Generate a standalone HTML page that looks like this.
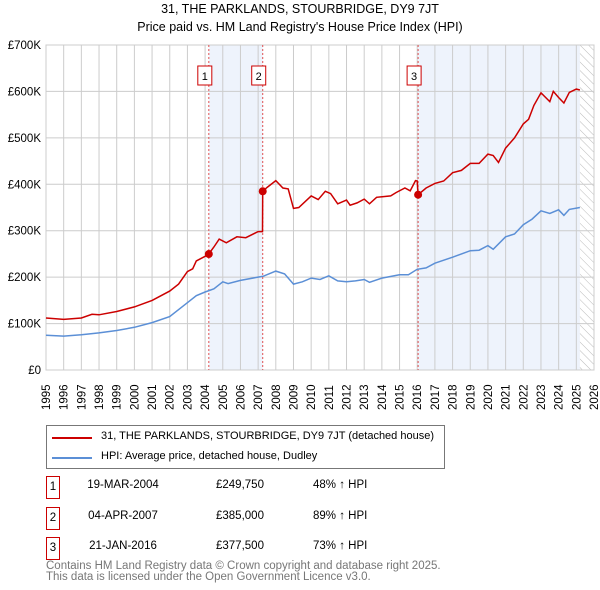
<!DOCTYPE html>
<html><head><meta charset="utf-8"><style>
body{margin:0;background:#fff;font-family:"Liberation Sans","DejaVu Sans",sans-serif;}
#w{position:relative;width:600px;height:590px;overflow:hidden}
.t{position:absolute;font-size:12px;color:#000;white-space:nowrap}
</style></head><body><div id="w">
<div class="t" style="left:0;width:600px;top:2px;text-align:center;font-size:12.5px">31, THE PARKLANDS, STOURBRIDGE, DY9 7JT</div>
<div class="t" style="left:0;width:600px;top:20px;text-align:center;font-size:12.5px">Price paid vs. HM Land Registry's House Price Index (HPI)</div>
<svg id="c" width="600" height="420" style="position:absolute;left:0;top:0"></svg>
<div style="position:absolute;left:46px;top:425px;width:397px;height:42px;border:1px solid #777">
<div style="position:absolute;left:5px;top:11px;width:40px;height:2px;background:#cc0000"></div>
<div class="t" style="left:54px;top:4px;font-size:11px">31, THE PARKLANDS, STOURBRIDGE, DY9 7JT (detached house)</div>
<div style="position:absolute;left:5px;top:31px;width:40px;height:2px;background:#5b8fd6"></div>
<div class="t" style="left:54px;top:24px;font-size:11px">HPI: Average price, detached house, Dudley</div>
</div>
<div id="tbl"></div>
<div class="t" style="left:46px;top:561px;font-size:11.5px;color:#777;line-height:11px">Contains HM Land Registry data © Crown copyright and database right 2025.<br>This data is licensed under the Open Government Licence v3.0.</div>
</div>
<script>
const hpiX=[1995,1996,1997,1998,1999,2000,2001,2002,2003,2003.5,2004,2004.5,2005,2005.3,2006,2007,2007.3,2008,2008.5,2009,2009.5,2010,2010.5,2011,2011.5,2012,2012.5,2013,2013.3,2014,2015,2015.5,2016,2016.5,2017,2018,2019,2019.5,2020,2020.3,2021,2021.5,2022,2022.5,2023,2023.5,2024,2024.3,2024.6,2025.2];
const hpiY=[75,73,76,80,85,92,102,115,145,160,168,175,190,186,193,200,202,213,207,185,190,198,195,203,192,190,192,195,189,198,205,205,217,220,230,243,257,258,268,260,287,293,313,325,343,337,345,333,346,350];
const redX=[1995,1996,1997,1997.6,1998,1999,2000,2001,2002,2002.5,2003,2003.3,2003.5,2004,2004.21,2004.5,2004.8,2005.2,2005.8,2006.3,2007,2007.25,2007.26,2007.5,2008,2008.4,2008.7,2009,2009.3,2010,2010.4,2010.8,2011.1,2011.5,2012,2012.2,2012.6,2013,2013.3,2013.7,2014.5,2014.8,2015.3,2015.6,2015.9,2016.0,2016.05,2016.5,2017,2017.5,2018,2018.5,2019,2019.5,2020,2020.3,2020.6,2021,2021.5,2022,2022.3,2022.6,2023,2023.5,2023.7,2024,2024.3,2024.6,2025,2025.2];
const redY=[112,109,112,120,119,126,136,150,170,185,212,218,235,245,249.75,265,282,274,287,285,298,298,385,393,408,392,390,348,350,375,367,385,380,358,366,355,360,368,358,372,375,382,392,386,408,407,377.5,392,402,407,425,430,445,445,465,462,447,478,500,530,540,570,597,578,600,587,575,598,605,603];
const saleX=[2004.21,2007.26,2016.05];
const saleY=[249.75,385,377.5];
const saleDates=["19-MAR-2004","04-APR-2007","21-JAN-2016"];
const salePrices=["£249,750","£385,000","£377,500"];
const salePct=["48% ↑ HPI","89% ↑ HPI","73% ↑ HPI"];
const yTicks=[0,100,200,300,400,500,600,700];
const yLabels=["£0","£100K","£200K","£300K","£400K","£500K","£600K","£700K"];
const L=46,R=594,T=45,B=370,X0=1995,X1=2026,YM=700;
const sx=v=>L+(v-X0)*(R-L)/(X1-X0), sy=v=>B-v*(B-T)/YM;
const NS="http://www.w3.org/2000/svg",svg=document.getElementById('c');
function mk(tag,at,parent){const e=document.createElementNS(NS,tag);for(const k in at)e.setAttribute(k,at[k]);(parent||svg).appendChild(e);return e;}
const defs=mk('defs',{});
const pat=mk('pattern',{id:'h',width:6,height:6,patternUnits:'userSpaceOnUse',patternTransform:'rotate(-45)'},defs);
mk('line',{x1:0,y1:0,x2:0,y2:6,stroke:'#bbb','stroke-width':1},pat);
let s1=mk('rect',{x:sx(saleX[0]),y:T,width:sx(saleX[1])-sx(saleX[0]),height:B-T,fill:'#eef3fc'});

let s2=mk('rect',{x:sx(saleX[2]),y:T,width:sx(2025.2)-sx(saleX[2]),height:B-T,fill:'#eef3fc'});

let hz=mk('rect',{x:sx(2025.2),y:T,width:R-sx(2025.2),height:B-T,fill:'url(#h)'});

for(let y=X0;y<=X1;y++){
 let g=mk('line',{x1:sx(y),x2:sx(y),y1:T,y2:B,stroke:'#ccc','stroke-width':1});
 
 let t=mk('text',{x:0,y:0,transform:`translate(${sx(y)+4},${410}) rotate(-90)`,'font-size':11.5,fill:'#000'});
 t.textContent=y;
}
yTicks.forEach((v,i)=>{
 let g=mk('line',{x1:L,x2:R,y1:sy(v),y2:sy(v),stroke:'#ccc','stroke-width':1});
 
 let t=mk('text',{x:L-5,y:sy(v)+4,'text-anchor':'end','font-size':11.5,fill:'#000'});
 t.textContent=yLabels[i];
});
let ax=mk('rect',{x:L,y:T,width:R-L,height:B-T,fill:'none',stroke:'#ccc'});

saleX.forEach((x,i)=>{
 let l=mk('line',{x1:sx(x),x2:sx(x),y1:T,y2:B,stroke:'#e05050','stroke-dasharray':'2,2','stroke-width':1});
 
 let r=mk('rect',{x:sx(x)-11,y:66,width:14,height:19,fill:'#fff',stroke:'#cc0000'});
 
 let t=mk('text',{x:sx(x)-4,y:80,'text-anchor':'middle','font-size':11});
 t.textContent=i+1;
});
const pts=(X,Y)=>X.map((x,i)=>sx(x).toFixed(1)+','+sy(Y[i]).toFixed(1)).join(' ');
let hp=mk('polyline',{points:pts(hpiX,hpiY),fill:'none',stroke:'#5b8fd6','stroke-width':1.5});

let rp=mk('polyline',{points:pts(redX,redY),fill:'none',stroke:'#cc0000','stroke-width':1.5});

saleX.forEach((x,i)=>{
 let c=mk('circle',{cx:sx(x),cy:sy(saleY[i]),r:4,fill:'#cc0000'});
 
});
const tbl=document.getElementById('tbl');
saleDates.forEach((d,i)=>{
 const top=476+i*30.5;
 const row=document.createElement('div');
 
 
 row.innerHTML=`<div style="position:absolute;left:46px;top:${top}px;width:12px;height:21px;border:1px solid #cc0000;font-size:11.5px;text-align:center;line-height:20px">${i+1}</div>
<div class="t" style="left:78px;width:90px;text-align:center;top:${top+3}px;font-size:11.5px">${d}</div>
<div class="t" style="left:216px;top:${top+3}px;font-size:11.5px">${salePrices[i]}</div>
<div class="t" style="left:313px;top:${top+3}px;font-size:11.5px">${salePct[i]}</div>`;
 tbl.appendChild(row);
});
</script></body></html>
